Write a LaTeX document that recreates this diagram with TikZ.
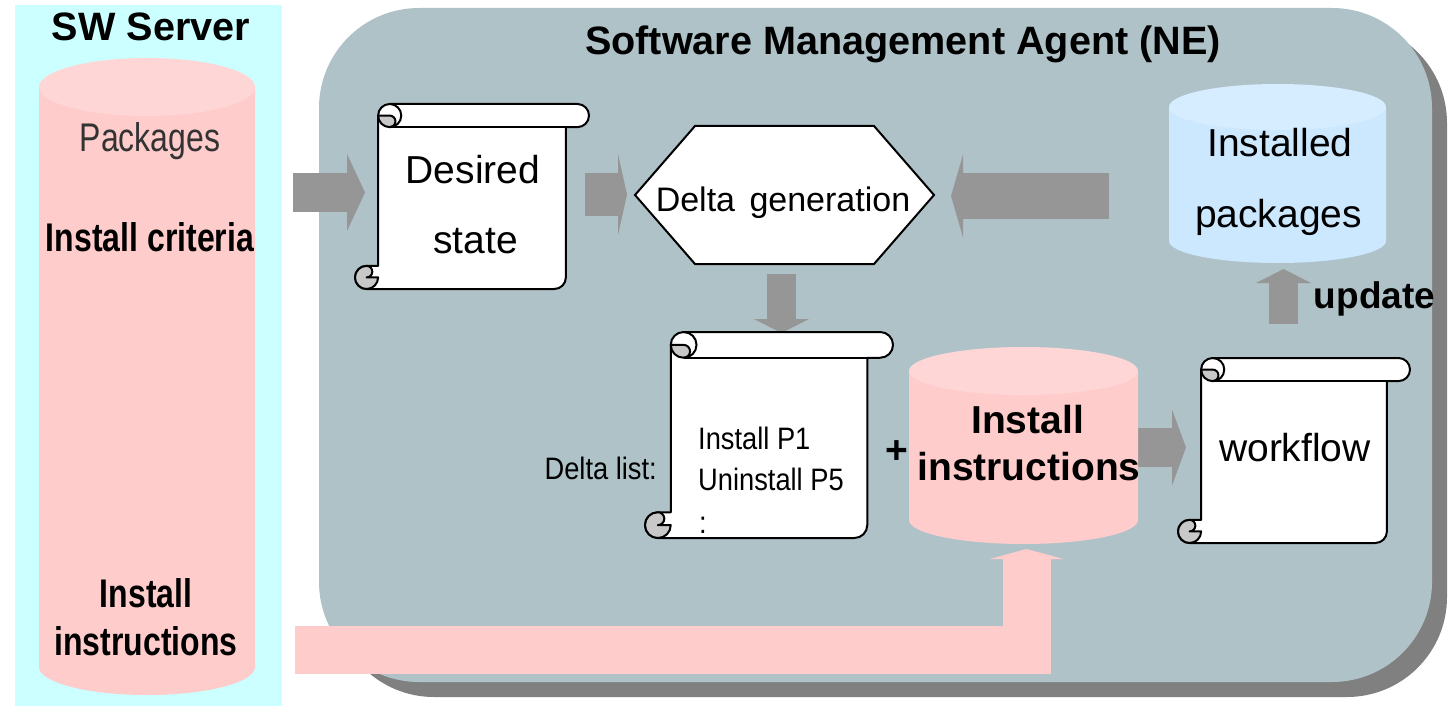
\documentclass[tikz,border=0pt]{standalone}
\usepackage{fontspec}
\setmainfont{Liberation Sans}
\newfontfamily\narrowfont[FakeStretch=0.8]{Liberation Sans}
\newfontfamily\listfont[FakeStretch=0.88]{Liberation Sans}
\usetikzlibrary{arrows.meta}

\definecolor{serverbg}{RGB}{204,255,255}
\definecolor{panelbg}{RGB}{175,194,200}
\definecolor{panelshadow}{RGB}{128,128,128}
\definecolor{dbpink}{RGB}{255,204,204}
\definecolor{dbpinktop}{RGB}{255,214,214}
\definecolor{dbblue}{RGB}{204,232,255}
\definecolor{dbbluetop}{RGB}{214,237,255}
\definecolor{flowgray}{RGB}{150,150,150}
\definecolor{curlgray}{RGB}{200,200,200}

\tikzset{
  sheet/.style={fill=white, draw=black, line width=2pt, line join=round},
  curl/.style={fill=curlgray, draw=black, line width=2pt, line join=round},
  txt/.style={inner sep=0pt, anchor=base},
  body/.style={font=\fontsize{39}{47}\selectfont},
  bodybold/.style={font=\bfseries\fontsize{39}{47}\selectfont},
  titlebold/.style={font=\bfseries\fontsize{39.6}{47}\selectfont},
  leftcol/.style={font=\narrowfont\fontsize{40}{48}\selectfont},
  leftcolbold/.style={font=\narrowfont\bfseries\fontsize{40}{48}\selectfont},
  listtxt/.style={font=\listfont\fontsize{31}{38}\selectfont},
  flow/.style={draw=flowgray, line cap=butt},
}

% rolled sheet of paper: left, top, right, bottom
\newcommand\scrollsheet[4]{%
  \pgfmathsetmacro\scrL{#1}\pgfmathsetmacro\scrT{#2}%
  \pgfmathsetmacro\scrR{#3}\pgfmathsetmacro\scrB{#4}%
  \pgfmathsetmacro\scrC{0.125*min(\scrR-\scrL,\scrB-\scrT)}%
  \pgfmathsetmacro\scrH{\scrC/2}\pgfmathsetmacro\scrQ{\scrC/4}%
  \filldraw[sheet] ({\scrL+\scrC},{\scrB-\scrC}) -- ({\scrL+\scrC},{\scrT+\scrH})
    arc[start angle=180, delta angle=90, radius=\scrH] -- ({\scrR-\scrH},\scrT)
    arc[start angle=270, delta angle=180, radius=\scrH] -- ({\scrR-\scrC},{\scrT+\scrC})
    -- ({\scrR-\scrC},{\scrB-\scrH}) arc[start angle=0, delta angle=90, radius=\scrH]
    -- ({\scrL+\scrH},\scrB) arc[start angle=90, delta angle=180, radius=\scrH] -- cycle;
  % lower curl
  \filldraw[curl] ({\scrL+\scrC},{\scrB-\scrH})
    arc[start angle=0, delta angle=270, radius=\scrH]
    arc[start angle=270, delta angle=180, radius=\scrQ] -- cycle;
  % upper curl
  \filldraw[curl] ({\scrL+\scrC},{\scrT+\scrH})
    arc[start angle=180, delta angle=-90, radius=\scrH]
    arc[start angle=90, delta angle=-180, radius=\scrQ] -- cycle;
  \draw[line width=2pt] ({\scrL+1.5*\scrC},\scrT)
    arc[start angle=270, delta angle=180, radius=\scrH];
  \draw[line width=2pt] ({\scrL+1.5*\scrC},{\scrT+\scrC}) -- ({\scrR-\scrC},{\scrT+\scrC});
}

\begin{document}
\begin{tikzpicture}[x=1pt, y=-1pt]
\useasboundingbox (0,0) rectangle (1448,706);

% SW server column
\fill[serverbg] (15,5) rectangle (282,706);
\fill[dbpink] (39,87) -- (39,667) arc[start angle=180, end angle=0, x radius=108, y radius=28] -- (255,87) -- cycle;
\fill[dbpinktop] (147,87) ellipse[x radius=108, y radius=29];

% agent panel with its shadow
\fill[panelshadow, rounded corners=100pt] (334,23) rectangle (1447,697);
\fill[panelbg, rounded corners=100pt] (319,8) rectangle (1432,682);

% connector end points
\coordinate (srvOut) at (293,192.5);
\coordinate (desIn) at (365,192.5);
\coordinate (desOut) at (585,194.5);
\coordinate (genInL) at (627,194.5);
\coordinate (instOut) at (1109,196);
\coordinate (genInR) at (951,196);
\coordinate (genOut) at (781.5,274);
\coordinate (listIn) at (781.5,333);
\coordinate (instrOut) at (1137,447.5);
\coordinate (flowIn) at (1186,447.5);
\coordinate (flowOut) at (1283.5,324);
\coordinate (pkgIn) at (1283.5,269);
\coordinate (srvInstr) at (295,649.5);
\coordinate (instrIn) at (1026.5,549);

% block arrows
\draw[flow, line width=39pt, -{Triangle[length=18pt 0 0, width=77pt 0 0, line width=0pt]}] (srvOut) -- (desIn);
\draw[flow, line width=43pt, -{Triangle[length=9pt 0 0, width=81pt 0 0, line width=0pt]}] (desOut) -- (genInL);
\draw[flow, line width=46pt, -{Triangle[length=12pt 0 0, width=83pt 0 0, line width=0pt]}] (instOut) -- (genInR);
\draw[flow, line width=29pt, -{Triangle[length=14pt 0 0, width=55pt 0 0, line width=0pt]}] (genOut) -- (listIn);
\draw[flow, line width=39pt, -{Triangle[length=14pt 0 0, width=76pt 0 0, line width=0pt]}] (instrOut) -- (flowIn);
\draw[flow, line width=29pt, -{Triangle[length=14pt 0 0, width=55pt 0 0, line width=0pt]}] (flowOut) -- (pkgIn);
\draw[draw=dbpink, line width=48pt, line join=miter, line cap=butt,
      -{Triangle[length=10pt 0 0, width=74pt 0 0, line width=0pt]}] (srvInstr) -| (instrIn);

% sheets
\scrollsheet{355}{104}{589}{289}
\scrollsheet{645}{332}{893}{538}
\scrollsheet{1178}{358}{1410}{543}

% delta generation
\draw[sheet, line join=miter] (635,195) -- (695,126) -- (874,126) -- (934,195) -- (874,264) -- (695,264) -- cycle;

% install instructions store
\fill[dbpink] (909,371) -- (909,520) arc[start angle=180, end angle=0, x radius=114.5, y radius=24] -- (1138,371) -- cycle;
\fill[dbpinktop] (1023.5,371) ellipse[x radius=114.5, y radius=24];

% installed packages store
\fill[dbblue] (1169,107) -- (1169,241) arc[start angle=180, end angle=0, x radius=108.5, y radius=22] -- (1386,107) -- cycle;
\fill[dbbluetop] (1277.5,107) ellipse[x radius=108.5, y radius=23];

% texts
\node[txt, titlebold] (srvTitle) at (151,41) {SW Server};
\node[txt, titlebold] (agentTitle) at (903,55) {Software Management Agent (NE)};
\node[txt, leftcol, text=black!80] (srvPkg) at (150,152) {Packages};
\node[txt, leftcolbold] (srvCrit) at (150,251) {Install criteria};
\node[txt, leftcolbold] (srvInstrA) at (146,607) {Install};
\node[txt, leftcolbold] (srvInstrB) at (146,655) {instructions};

\node[txt, body] (desA) at (473,183) {Desired};
\node[txt, body] (desB) at (475.5,253) {state};
\node[txt, font=\fontsize{34}{41}\selectfont] (deltaGen) at (783,211) {Delta\hspace{5pt} generation};
\node[txt, body] (instA) at (1280,157) {Installed};
\node[txt, body] (instB) at (1278.5,227) {packages};
\node[txt, font=\bfseries\fontsize{37}{44}\selectfont] (upd) at (1374.5,308) {update};
\node[txt, body] (wf) at (1295,461) {workflow};
\node[txt, bodybold] (instrA) at (1027.5,433) {Install};
\node[txt, bodybold] (instrB) at (1029,480) {instructions};
\node[inner sep=0pt, bodybold] (plus) at (897,452) {+};

\node[txt, listtxt, anchor=base east] (dlLabel) at (657,479) {Delta list:};
\node[txt, listtxt, anchor=base west] (dlA) at (698,449) {Install P1};
\node[txt, listtxt, anchor=base west] (dlB) at (698,490) {Uninstall P5};
\node[txt, listtxt, anchor=base west] (dlC) at (699,533) {:};
\end{tikzpicture}
\end{document}
